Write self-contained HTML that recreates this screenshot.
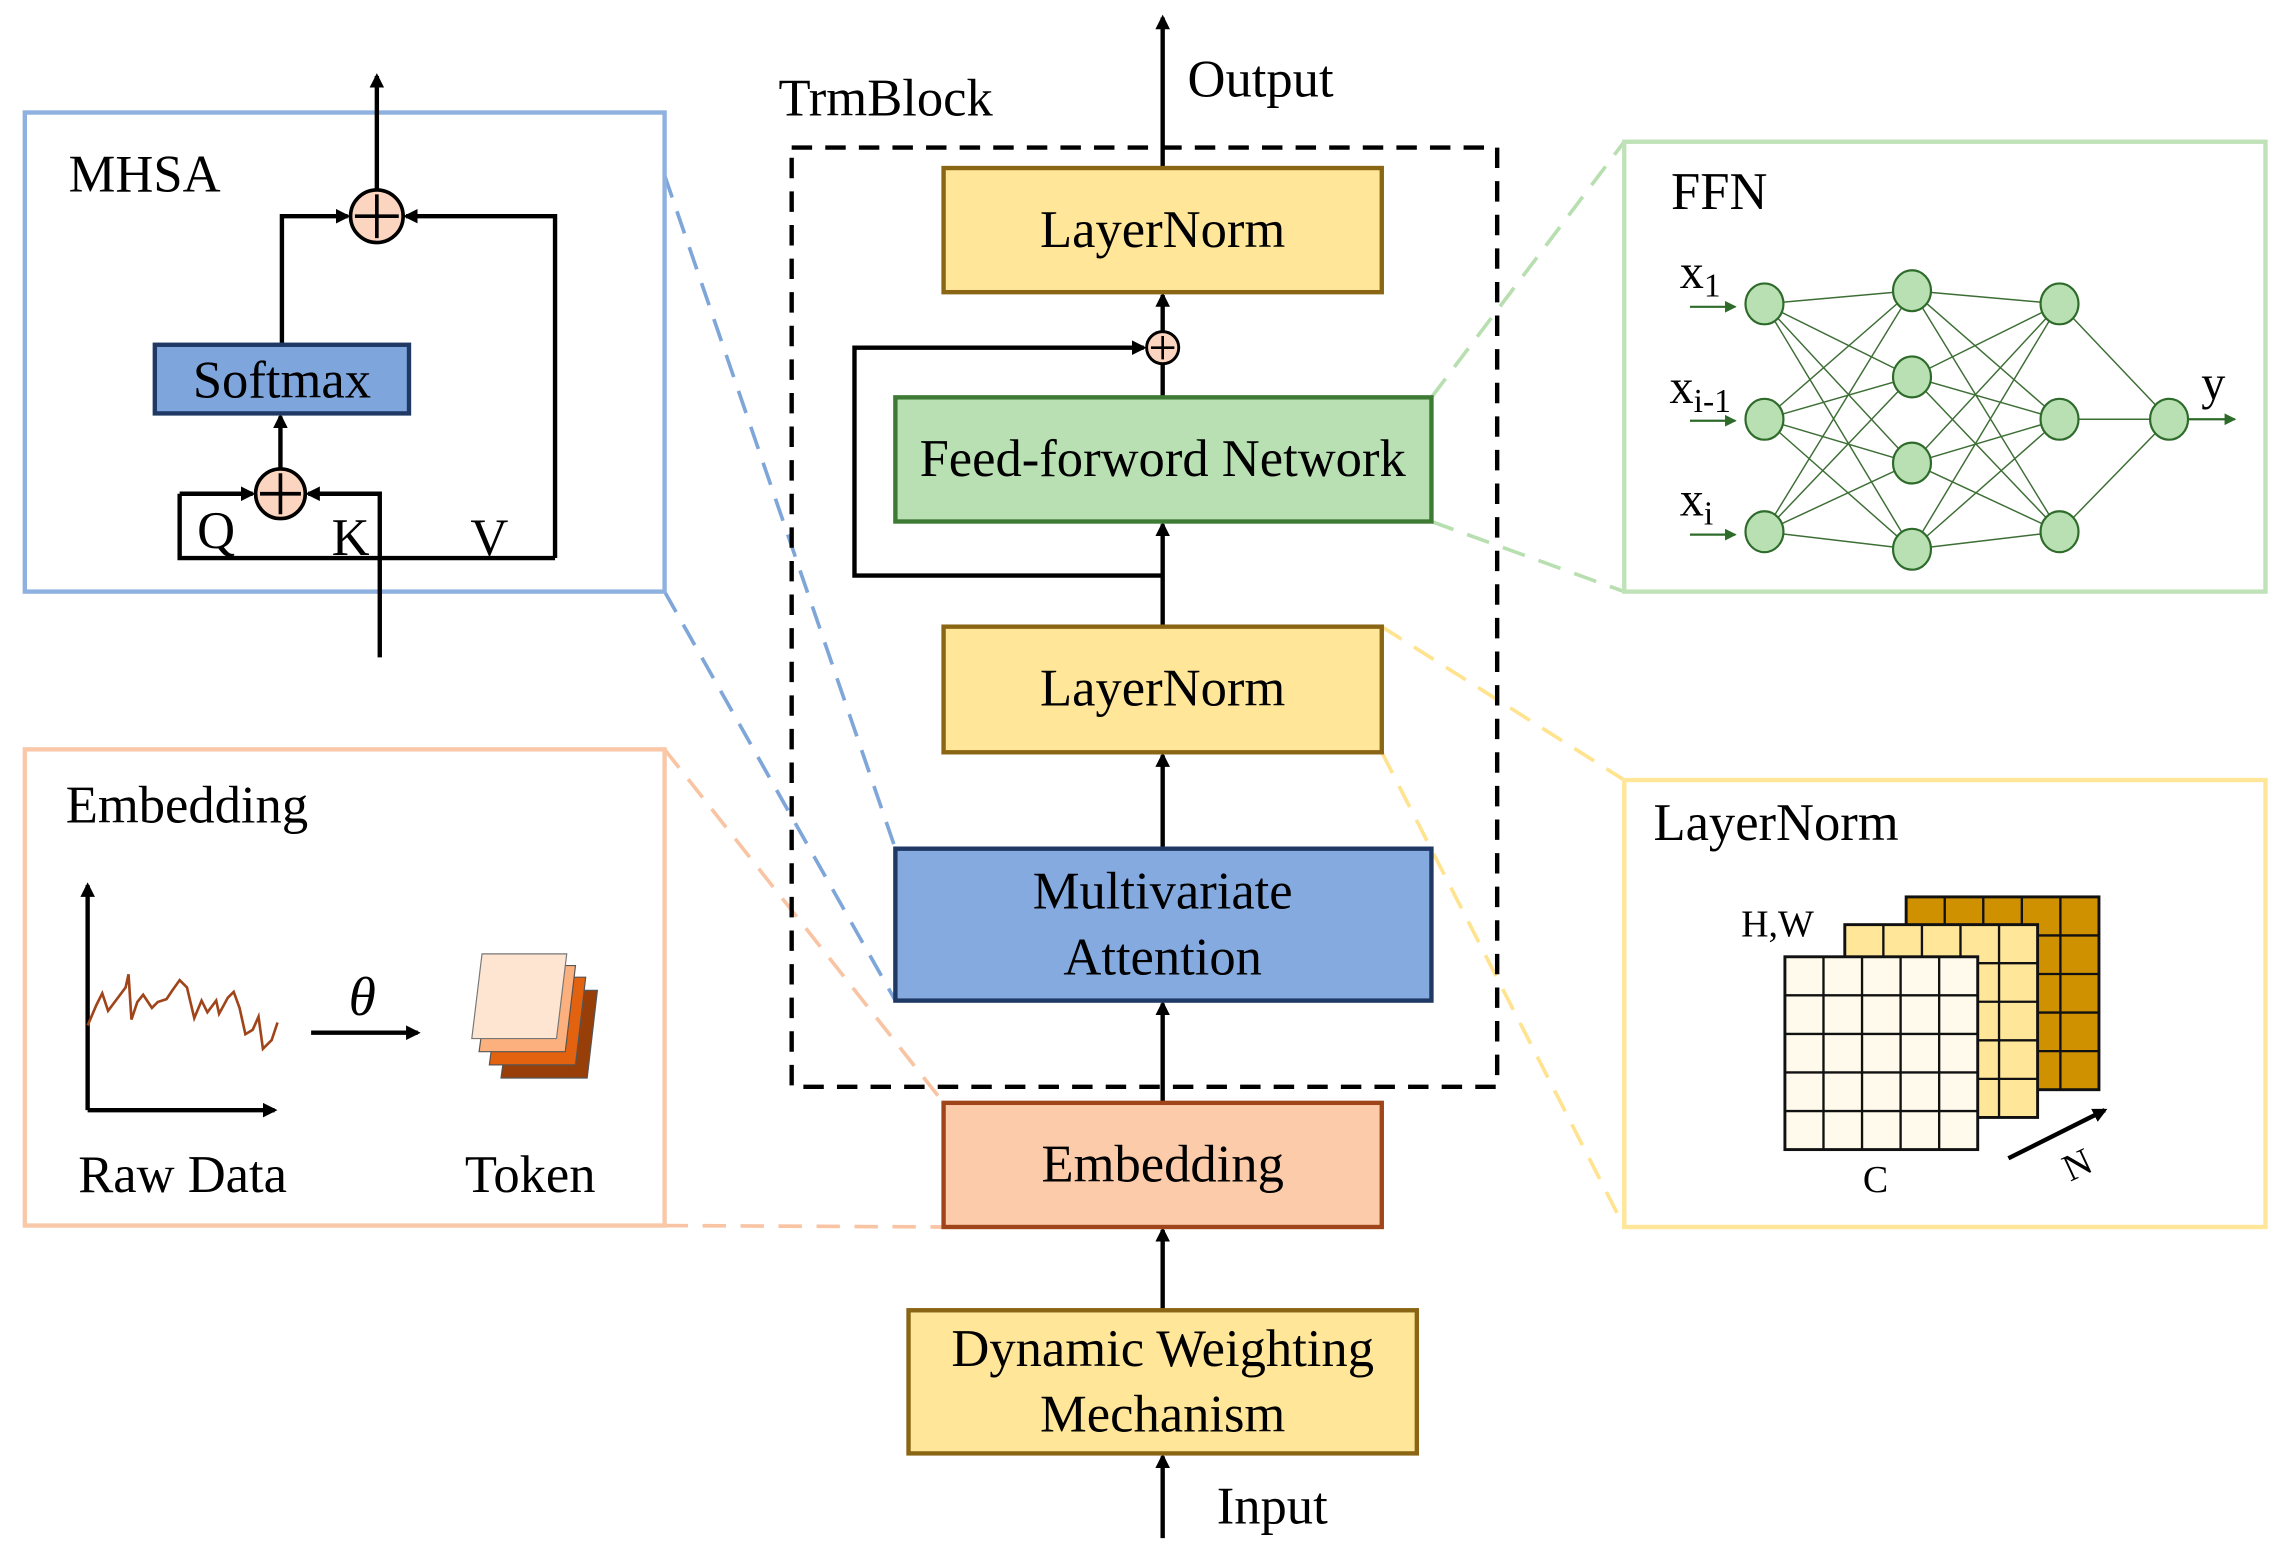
<!DOCTYPE html>
<html><head><meta charset="utf-8"><style>html,body{margin:0;padding:0;background:#fff}svg{display:block}text{font-family:"Liberation Serif",serif;fill:#000}</style></head>
<body>
<svg width="2283" height="1563" viewBox="0 0 1563 1070" xmlns="http://www.w3.org/2000/svg">
<defs>
<marker id="ah" markerWidth="10" markerHeight="10" refX="8" refY="5" orient="auto" markerUnits="userSpaceOnUse"><path d="M0,0 L10,5 L0,10 z" fill="#000"/></marker>
<marker id="ag" markerWidth="8" markerHeight="8" refX="7" refY="4" orient="auto" markerUnits="userSpaceOnUse"><path d="M0,0 L8,4 L0,8 z" fill="#2e6b2a"/></marker>
<g id="grid">
<path d="M26.4,0V132M52.8,0V132M79.2,0V132M105.6,0V132M0,26.4H132M0,52.8H132M0,79.2H132M0,105.6H132" stroke="#111" stroke-width="1.6" fill="none"/>
<rect x="0" y="0" width="132" height="132" fill="none" stroke="#111" stroke-width="2"/>
</g>
</defs>

<g fill="none" stroke-width="2.5" stroke-dasharray="16,10">
<line x1="455" y1="120" x2="613" y2="581" stroke="#7fa6d9"/>
<line x1="455" y1="405" x2="613" y2="685" stroke="#7fa6d9"/>
<line x1="455" y1="513" x2="646" y2="755" stroke="#f8c4a4"/>
<line x1="455" y1="839" x2="646" y2="840" stroke="#f8c4a4"/>
<line x1="980" y1="272" x2="1112" y2="97" stroke="#b8dfb0"/>
<line x1="980" y1="357" x2="1112" y2="405" stroke="#b8dfb0"/>
<line x1="946" y1="429" x2="1112" y2="534" stroke="#ffe38f"/>
<line x1="946" y1="515" x2="1112" y2="840" stroke="#ffe38f"/>
</g>

<rect x="17" y="77" width="438" height="328" fill="#fff" stroke="#8eb1e0" stroke-width="3"/>
<text x="47" y="131" font-size="36">MHSA</text>
<g stroke="#000" stroke-width="3" fill="none">
<line x1="258" y1="130" x2="258" y2="52" marker-end="url(#ah)"/>
<polyline points="193,236 193,148 238,148" marker-end="url(#ah)"/>
<polyline points="380,382 380,148 278,148" marker-end="url(#ah)"/>
<polyline points="123,338 123,382 380,382"/>
<polyline points="123,338 173,338" marker-end="url(#ah)"/>
<polyline points="260,450 260,338 211,338" marker-end="url(#ah)"/>
<line x1="192" y1="321" x2="192" y2="285" marker-end="url(#ah)"/>
</g>
<circle cx="258" cy="148" r="18" fill="#fbd5bf" stroke="#000" stroke-width="2.5"/>
<path d="M258,133V163M243,148H273" stroke="#000" stroke-width="2.5"/>
<circle cx="192" cy="338" r="17" fill="#fbd5bf" stroke="#000" stroke-width="2.5"/>
<path d="M192,324V352M178,338H206" stroke="#000" stroke-width="2.5"/>
<rect x="106" y="236" width="174" height="47" fill="#7ea6dc" stroke="#1f3864" stroke-width="3"/>
<text x="193" y="272" font-size="36" text-anchor="middle">Softmax</text>
<text x="148" y="375" font-size="36" text-anchor="middle">Q</text>
<text x="240" y="380" font-size="36" text-anchor="middle">K</text>
<text x="335" y="380" font-size="36" text-anchor="middle">V</text>

<rect x="17" y="513" width="438" height="326" fill="#fff" stroke="#f8c8a8" stroke-width="3"/>
<text x="45" y="563" font-size="36">Embedding</text>
<g stroke="#000" stroke-width="3" fill="none">
<line x1="60" y1="760" x2="60" y2="606" marker-end="url(#ah)"/>
<line x1="60" y1="760" x2="188" y2="760" marker-end="url(#ah)"/>
<line x1="213" y1="707" x2="286" y2="707" marker-end="url(#ah)"/>
</g>
<path d="M60,702 L66,688 L70,680 L74,692 L80,684 L86,676 L88,667 L90,698 L94,686 L98,681 L104,690 L108,686 L114,684 L118,678 L123,671 L128,676 L133,697 L138,685 L142,693 L148,685 L150,694 L156,683 L160,679 L164,690 L168,708 L173,705 L177,696 L180,718 L186,712 L190,700" fill="none" stroke="#a0441a" stroke-width="1.8"/>
<text x="248" y="695" font-size="38" font-style="italic" text-anchor="middle">θ</text>
<polygon points="351,678 409,678 402,738 343,738" fill="#983e08" stroke="#555" stroke-width="0.8"/>
<polygon points="343,669 401,669 394,729 335,729" fill="#e3620f" stroke="#555" stroke-width="0.8"/>
<polygon points="336,661 394,661 387,720 328,720" fill="#fcb07d" stroke="#555" stroke-width="0.8"/>
<polygon points="330,653 388,653 381,711 323,711" fill="#fde5d2" stroke="#777" stroke-width="0.8"/>
<text x="125" y="816" font-size="36" text-anchor="middle">Raw Data</text>
<text x="363" y="816" font-size="36" text-anchor="middle">Token</text>

<rect x="542" y="101" width="483" height="643" fill="none" stroke="#000" stroke-width="3" stroke-dasharray="14,9"/>
<text x="533" y="79" font-size="36">TrmBlock</text>
<g stroke="#000" stroke-width="3" fill="none">
<line x1="796" y1="115" x2="796" y2="12" marker-end="url(#ah)"/>
<line x1="796" y1="227" x2="796" y2="202" marker-end="url(#ah)"/>
<line x1="796" y1="272" x2="796" y2="249"/>
<polyline points="796,394 585,394 585,238 783,238" marker-end="url(#ah)"/>
<line x1="796" y1="429" x2="796" y2="359" marker-end="url(#ah)"/>
<line x1="796" y1="581" x2="796" y2="517" marker-end="url(#ah)"/>
<line x1="796" y1="755" x2="796" y2="687" marker-end="url(#ah)"/>
<line x1="796" y1="897" x2="796" y2="842" marker-end="url(#ah)"/>
<line x1="796" y1="1053" x2="796" y2="997" marker-end="url(#ah)"/>
</g>
<circle cx="796" cy="238" r="11" fill="#fbd5bf" stroke="#000" stroke-width="2"/>
<path d="M796,230V246M788,238H804" stroke="#000" stroke-width="1.8"/>
<text x="813" y="66" font-size="36">Output</text>
<text x="833" y="1043" font-size="36">Input</text>

<rect x="646" y="115" width="300" height="85" fill="#ffe699" stroke="#8a6513" stroke-width="3"/>
<text x="796" y="169" font-size="36" text-anchor="middle">LayerNorm</text>
<rect x="613" y="272" width="367" height="85" fill="#b9e0b3" stroke="#3d7a33" stroke-width="3"/>
<text x="796" y="326" font-size="36" text-anchor="middle">Feed-forword Network</text>
<rect x="646" y="429" width="300" height="86" fill="#ffe699" stroke="#8a6513" stroke-width="3"/>
<text x="796" y="483" font-size="36" text-anchor="middle">LayerNorm</text>
<rect x="613" y="581" width="367" height="104" fill="#84aadf" stroke="#1f3864" stroke-width="3"/>
<text x="796" y="622" font-size="36" text-anchor="middle">Multivariate</text>
<text x="796" y="667" font-size="36" text-anchor="middle">Attention</text>
<rect x="646" y="755" width="300" height="85" fill="#fbcbaa" stroke="#a0441a" stroke-width="3"/>
<text x="796" y="809" font-size="36" text-anchor="middle">Embedding</text>
<rect x="622" y="897" width="348" height="98" fill="#ffe699" stroke="#8a6513" stroke-width="3"/>
<text x="796" y="935" font-size="36" text-anchor="middle">Dynamic Weighting</text>
<text x="796" y="980" font-size="36" text-anchor="middle">Mechanism</text>

<rect x="1112" y="97" width="439" height="308" fill="#fff" stroke="#c0e2b8" stroke-width="3"/>
<text x="1144" y="143" font-size="36">FFN</text>
<g stroke="#3d6e35" stroke-width="1">
<path d="M1208,208L1309,199M1208,208L1309,258M1208,208L1309,317M1208,208L1309,376M1208,287L1309,199M1208,287L1309,258M1208,287L1309,317M1208,287L1309,376M1208,364L1309,199M1208,364L1309,258M1208,364L1309,317M1208,364L1309,376"/>
<path d="M1410,208L1309,199M1410,208L1309,258M1410,208L1309,317M1410,208L1309,376M1410,287L1309,199M1410,287L1309,258M1410,287L1309,317M1410,287L1309,376M1410,364L1309,199M1410,364L1309,258M1410,364L1309,317M1410,364L1309,376"/>
<path d="M1410,208L1485,287M1410,287L1485,287M1410,364L1485,287"/>
</g>
<g fill="#b9e0b3" stroke="#2e6b2a" stroke-width="1.5">
<ellipse cx="1208" cy="208" rx="13" ry="14"/><ellipse cx="1208" cy="287" rx="13" ry="14"/><ellipse cx="1208" cy="364" rx="13" ry="14"/>
<ellipse cx="1309" cy="199" rx="13" ry="14"/><ellipse cx="1309" cy="258" rx="13" ry="14"/><ellipse cx="1309" cy="317" rx="13" ry="14"/><ellipse cx="1309" cy="376" rx="13" ry="14"/>
<ellipse cx="1410" cy="208" rx="13" ry="14"/><ellipse cx="1410" cy="287" rx="13" ry="14"/><ellipse cx="1410" cy="364" rx="13" ry="14"/>
<ellipse cx="1485" cy="287" rx="13" ry="14"/>
</g>
<g stroke="#2e6b2a" stroke-width="1.5">
<line x1="1157" y1="210" x2="1188" y2="210" marker-end="url(#ag)"/>
<line x1="1157" y1="288" x2="1188" y2="288" marker-end="url(#ag)"/>
<line x1="1157" y1="366" x2="1188" y2="366" marker-end="url(#ag)"/>
<line x1="1498" y1="287" x2="1530" y2="287" marker-end="url(#ag)"/>
</g>
<text x="1150" y="197" font-size="33">x<tspan font-size="23" dy="6">1</tspan></text>
<text x="1143" y="276" font-size="33">x<tspan font-size="23" dy="6">i-1</tspan></text>
<text x="1150" y="353" font-size="33">x<tspan font-size="23" dy="6">i</tspan></text>
<text x="1507" y="273" font-size="33">y</text>

<rect x="1112" y="534" width="439" height="306" fill="#fff" stroke="#ffe699" stroke-width="3"/>
<text x="1132" y="575" font-size="36">LayerNorm</text>
<rect x="1305" y="614" width="132" height="132" fill="#cf9100"/>
<use href="#grid" x="1305" y="614"/>
<rect x="1263" y="633" width="132" height="132" fill="#ffe699"/>
<use href="#grid" x="1263" y="633"/>
<rect x="1222" y="655" width="132" height="132" fill="#fffaeb"/>
<use href="#grid" x="1222" y="655"/>
<text x="1192" y="641" font-size="26">H,W</text>
<text x="1284" y="816" font-size="26" text-anchor="middle">C</text>
<line x1="1375" y1="793" x2="1441" y2="760" stroke="#000" stroke-width="3" marker-end="url(#ah)"/>
<text x="1422" y="806" font-size="26" text-anchor="middle" transform="rotate(-25 1422 797)">N</text>
</svg>
</body></html>
